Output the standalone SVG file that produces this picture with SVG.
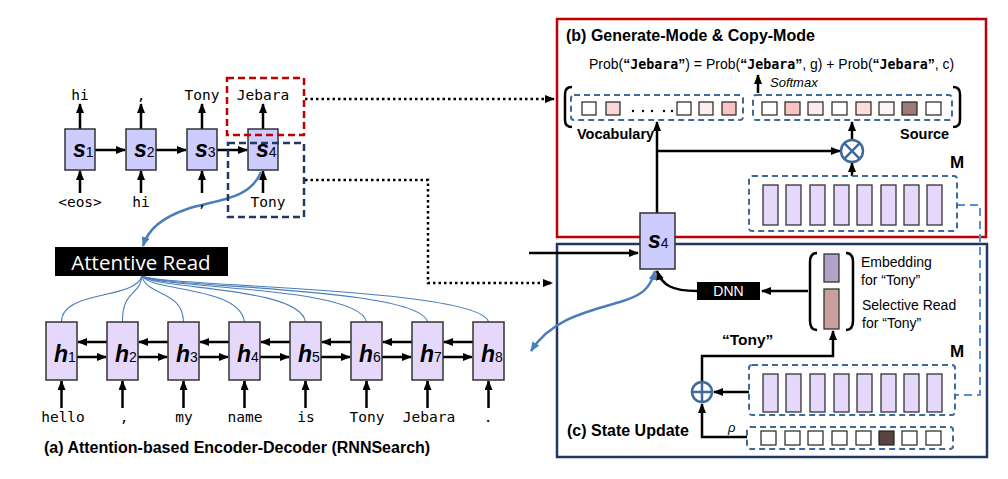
<svg xmlns="http://www.w3.org/2000/svg" width="1008" height="479" viewBox="0 0 1008 479">
<defs>
<style>
.sans{font-family:"Liberation Sans",Arial,sans-serif}
.mono{font-family:"DejaVu Sans Mono","Liberation Mono",monospace;font-size:14.5px}
.b{font-weight:bold}
.lbl{font-family:"Liberation Sans",Arial,sans-serif;font-weight:bold;font-style:italic;font-size:23px}
.sub{font-style:normal;font-weight:normal;font-size:14px}
.dec{fill:#ccccff;stroke:#333;stroke-width:1.5}
.enc{fill:#e6d8fb;stroke:#333;stroke-width:1.5}
.mem{fill:#e6d8fb;stroke:#333;stroke-width:1.3}
.sq{stroke:#222;stroke-width:1.2}
.arr{stroke:#000;stroke-width:2.5;fill:none;marker-end:url(#ah)}
.dot{stroke:#000;stroke-width:2.5;fill:none;stroke-dasharray:2.5,3;marker-end:url(#ah)}
.dash{fill:none;stroke:#3e6a9a;stroke-width:2;stroke-dasharray:6,4}
.fan{fill:none;stroke:#4a7ebb;stroke-width:1.1}
.blue{fill:none;stroke:#4a7ebb;stroke-width:2.5}
.brk{fill:none;stroke:#000;stroke-width:2.5}
.jb{font-family:"DejaVu Sans Mono",monospace;font-weight:bold;font-size:13.3px}
</style>
<marker id="ah" viewBox="0 0 10 8" refX="9" refY="4" markerWidth="10" markerHeight="8" markerUnits="userSpaceOnUse" orient="auto"><path d="M0,0 L10,4 L0,8 z" fill="#000"/></marker>
<marker id="bh" viewBox="0 0 10 8" refX="9" refY="4" markerWidth="10" markerHeight="8" markerUnits="userSpaceOnUse" orient="auto-start-reverse"><path d="M0,0 L10,4 L0,8 z" fill="#4a7ebb"/></marker>
</defs>
<rect width="1008" height="479" fill="#fff"/>

<!-- panels -->
<g id="panel-b">
<rect x="557" y="19" width="429" height="218" fill="none" stroke="#c00000" stroke-width="2.5"/>
<text class="sans b" x="566" y="41" font-size="16">(b)  Generate-Mode &amp; Copy-Mode</text>
</g>
<g id="panel-c">
<rect x="557" y="244" width="430" height="213" fill="none" stroke="#1f3864" stroke-width="2.5"/>
<text class="sans b" x="567" y="436" font-size="16">(c) State Update</text>
</g>

<!-- connectors -->
<g id="connectors">
<!-- decoder -->
<path class="arr" d="M80,129 V104"/>
<path class="arr" d="M141,129 V104"/>
<path class="arr" d="M202,129 V104"/>
<path class="arr" d="M263,129 V104"/>
<path class="arr" d="M80,193 V171"/>
<path class="arr" d="M141,193 V171"/>
<path class="arr" d="M202,193 V171"/>
<path class="arr" d="M263,193 V171"/>
<path class="arr" d="M95,150 H125"/>
<path class="arr" d="M156,150 H186"/>
<path class="arr" d="M217,150 H247"/>
<!-- encoder -->
<path class="arr" d="M107,342 H78"/>
<path class="arr" d="M168,342 H139"/>
<path class="arr" d="M229,342 H200"/>
<path class="arr" d="M290,342 H261"/>
<path class="arr" d="M351,342 H322"/>
<path class="arr" d="M412,342 H383"/>
<path class="arr" d="M473,342 H444"/>
<path class="arr" d="M77,357 H106"/>
<path class="arr" d="M138,357 H167"/>
<path class="arr" d="M199,357 H228"/>
<path class="arr" d="M260,357 H289"/>
<path class="arr" d="M321,357 H350"/>
<path class="arr" d="M382,357 H411"/>
<path class="arr" d="M443,357 H472"/>
<path class="arr" d="M61.5,408 V381"/>
<path class="arr" d="M122.5,408 V381"/>
<path class="arr" d="M183.5,408 V381"/>
<path class="arr" d="M244.5,408 V381"/>
<path class="arr" d="M305.5,408 V381"/>
<path class="arr" d="M366.5,408 V381"/>
<path class="arr" d="M427.5,408 V381"/>
<path class="arr" d="M488.5,408 V381"/>
<!-- attention fan -->
<path class="fan" d="M142,276 C135,300 61,290 61.5,322"/>
<path class="fan" d="M142,276 C140,296 122,290 122.5,322"/>
<path class="fan" d="M142,276 C146,296 183,290 183.5,322"/>
<path class="fan" d="M142,276 C152,292 240,286 244.5,322"/>
<path class="fan" d="M142,276 C156,290 300,286 305.5,322"/>
<path class="fan" d="M142,276 C160,289 360,286 366.5,322"/>
<path class="fan" d="M142,276 C163,288 420,287 427.5,322"/>
<path class="fan" d="M142,276 C166,287 480,288 488.5,322"/>
<!-- blue curves -->
<path class="blue" marker-end="url(#bh)" d="M261,172 C250,200 215,200 190,208 C160,218 148,230 143,246"/>
<path class="blue" marker-start="url(#bh)" marker-end="url(#bh)" d="M655,271 C650,290 640,296 620,302 C590,311 552,318 531,351"/>
<!-- dotted -->
<path class="dot" d="M305,99 H554"/>
<path class="dot" d="M305,180 H428 V283 H552"/>
<!-- into s4 -->
<path class="arr" d="M529,253 H638"/>
<!-- panel b -->
<path class="arr" d="M657,213 V122"/>
<path class="arr" d="M657,151 H840"/>
<path class="arr" d="M852,140 V122"/>
<path class="arr" d="M852,176 V163"/>
<path class="arr" d="M758,93 V75"/>
<!-- panel c -->
<path class="arr" d="M808,291 H762"/>
<path class="arr" d="M697,291 C672,291 662,285 657,271"/>
<path class="arr" d="M702,382 V356 H833 V331"/>
<path class="arr" d="M749,392 H714"/>
<path class="arr" d="M747,437 H702 V404"/>
<path fill="none" stroke="#5b8fd0" stroke-width="2" stroke-dasharray="8,5" d="M957,205 H980 V395 H955"/>
</g>

<!-- decoder -->
<g id="dec-outputs" class="mono">
<text x="80" y="100" text-anchor="middle">hi</text>
<text x="141" y="100" text-anchor="middle">,</text>
<text x="202" y="100" text-anchor="middle">Tony</text>
<text x="263" y="100" text-anchor="middle">Jebara</text>
<text x="80" y="207" text-anchor="middle">&lt;eos&gt;</text>
<text x="141" y="207" text-anchor="middle">hi</text>
<text x="202" y="207" text-anchor="middle">,</text>
<text x="268" y="207" text-anchor="middle">Tony</text>
</g>
<g id="s1"><rect class="dec" x="65" y="129" width="30" height="41"/><text class="lbl" x="73" y="157">s<tspan class="sub">1</tspan></text></g>
<g id="s2"><rect class="dec" x="126" y="129" width="30" height="41"/><text class="lbl" x="134" y="157">s<tspan class="sub">2</tspan></text></g>
<g id="s3"><rect class="dec" x="187" y="129" width="30" height="41"/><text class="lbl" x="195" y="157">s<tspan class="sub">3</tspan></text></g>
<g id="s4-dec"><rect class="dec" x="248" y="129" width="30" height="41"/><text class="lbl" x="256" y="157">s<tspan class="sub">4</tspan></text></g>
<g id="red-sel"><rect x="227" y="78" width="77" height="57" fill="none" stroke="#c00000" stroke-width="2.5" stroke-dasharray="7,4"/></g>
<g id="navy-sel"><rect x="228" y="143" width="76" height="74" fill="none" stroke="#1f3864" stroke-width="2.5" stroke-dasharray="7,4"/></g>

<!-- attentive read -->
<g id="attentive-read">
<rect x="55" y="247" width="173" height="29" fill="#000"/>
<text x="141" y="270" text-anchor="middle" fill="#fff" font-family="'Open Sans','Noto Sans',sans-serif" font-size="20.5">Attentive Read</text>
</g>

<!-- encoder -->
<g id="h1"><rect class="enc" x="46" y="322" width="31" height="58"/><text class="lbl" x="54" y="362">h<tspan class="sub">1</tspan></text></g>
<g id="h2"><rect class="enc" x="107" y="322" width="31" height="58"/><text class="lbl" x="115" y="362">h<tspan class="sub">2</tspan></text></g>
<g id="h3"><rect class="enc" x="168" y="322" width="31" height="58"/><text class="lbl" x="176" y="362">h<tspan class="sub">3</tspan></text></g>
<g id="h4"><rect class="enc" x="229" y="322" width="31" height="58"/><text class="lbl" x="237" y="362">h<tspan class="sub">4</tspan></text></g>
<g id="h5"><rect class="enc" x="290" y="322" width="31" height="58"/><text class="lbl" x="298" y="362">h<tspan class="sub">5</tspan></text></g>
<g id="h6"><rect class="enc" x="351" y="322" width="31" height="58"/><text class="lbl" x="359" y="362">h<tspan class="sub">6</tspan></text></g>
<g id="h7"><rect class="enc" x="412" y="322" width="31" height="58"/><text class="lbl" x="420" y="362">h<tspan class="sub">7</tspan></text></g>
<g id="h8"><rect class="enc" x="473" y="322" width="31" height="58"/><text class="lbl" x="481" y="362">h<tspan class="sub">8</tspan></text></g>
<g id="enc-inputs" class="mono">
<text x="63" y="422" text-anchor="middle">hello</text>
<text x="124" y="422" text-anchor="middle">,</text>
<text x="184" y="422" text-anchor="middle">my</text>
<text x="245" y="422" text-anchor="middle">name</text>
<text x="306" y="422" text-anchor="middle">is</text>
<text x="367" y="422" text-anchor="middle">Tony</text>
<text x="429" y="422" text-anchor="middle">Jebara</text>
<text x="488" y="422" text-anchor="middle">.</text>
</g>
<g id="caption-a"><text class="sans b" x="44" y="453" font-size="16">(a) Attention-based Encoder-Decoder (RNNSearch)</text></g>

<!-- panel b contents -->
<g id="formula">
<text class="sans" x="589" y="69" font-size="14">Prob(<tspan font-weight="bold">“</tspan><tspan class="jb">Jebara</tspan><tspan font-weight="bold">”</tspan>) = Prob(<tspan font-weight="bold">“</tspan><tspan class="jb">Jebara</tspan><tspan font-weight="bold">”</tspan>, g) + Prob(<tspan font-weight="bold">“</tspan><tspan class="jb">Jebara</tspan><tspan font-weight="bold">”</tspan>, c)</text>
<text class="sans" x="770" y="87" font-size="13" font-style="italic">Softmax</text>
</g>
<g id="output-vector">
<path class="brk" d="M572,87 Q565,87 565,94 V120 Q565,127 572,127"/>
<path class="brk" d="M953,87 Q960,87 960,94 V120 Q960,127 953,127"/>
</g>
<g id="vocabulary">
<rect class="dash" x="571" y="95" width="172" height="25" rx="3"/>
<rect class="sq" x="582" y="102" width="14" height="13" fill="#fff"/>
<rect class="sq" x="606" y="102" width="14" height="13" fill="#fcd6d6"/>
<g fill="#000"><circle cx="633" cy="111" r="1.2"/><circle cx="643" cy="111" r="1.2"/><circle cx="652" cy="111" r="1.2"/><circle cx="664" cy="111" r="1.2"/><circle cx="672" cy="111" r="1.2"/></g>
<rect class="sq" x="677" y="102" width="14" height="13" fill="#fff"/>
<rect class="sq" x="699" y="102" width="14" height="13" fill="#fdeeee"/>
<rect class="sq" x="722" y="102" width="14" height="13" fill="#fbc4c4"/>
<text class="sans b" x="577" y="139" font-size="14.5">Vocabulary</text>
</g>
<g id="source">
<rect class="dash" x="753" y="95" width="199" height="25" rx="3"/>
<rect class="sq" x="762" y="102" width="15" height="13" fill="#fff"/>
<rect class="sq" x="785" y="102" width="15" height="13" fill="#f9c3c3"/>
<rect class="sq" x="808" y="102" width="15" height="13" fill="#fdeaea"/>
<rect class="sq" x="832" y="102" width="15" height="13" fill="#fff"/>
<rect class="sq" x="856" y="102" width="15" height="13" fill="#fcdcdc"/>
<rect class="sq" x="879" y="102" width="15" height="13" fill="#fdf5f5"/>
<rect class="sq" x="902" y="102" width="15" height="13" fill="#9e7a7a"/>
<rect class="sq" x="926" y="102" width="15" height="13" fill="#fff"/>
<text class="sans b" x="900" y="139" font-size="14.5">Source</text>
</g>
<g id="mult">
<circle cx="852" cy="151" r="11" fill="#fff" stroke="#3e6a9a" stroke-width="2.5"/>
<path d="M844.2,143.2 L859.8,158.8 M859.8,143.2 L844.2,158.8" stroke="#3e6a9a" stroke-width="2.5"/>
</g>
<g id="memory-b">
<text class="sans b" x="950" y="168" font-size="17">M</text>
<rect class="dash" x="749" y="176" width="208" height="55" rx="3"/>
<rect class="mem" x="763" y="185" width="15" height="40"/>
<rect class="mem" x="786" y="185" width="15" height="40"/>
<rect class="mem" x="810" y="185" width="15" height="40"/>
<rect class="mem" x="834" y="185" width="15" height="40"/>
<rect class="mem" x="857" y="185" width="15" height="40"/>
<rect class="mem" x="881" y="185" width="15" height="40"/>
<rect class="mem" x="904" y="185" width="15" height="40"/>
<rect class="mem" x="927" y="185" width="15" height="40"/>
</g>

<g id="s4">
<rect class="dec" x="640" y="213" width="35" height="56"/>
<text class="lbl" x="648" y="248" font-size="25">s<tspan class="sub" font-size="15">4</tspan></text>
</g>

<!-- panel c contents -->
<g id="dnn">
<rect x="697" y="282" width="63" height="18" fill="#000"/>
<text class="sans" x="728.5" y="296" text-anchor="middle" fill="#fff" font-size="14">DNN</text>
</g>
<g id="input-vector">
<path class="brk" d="M817,253 Q810,253 810,262 V321 Q810,330 817,330"/>
<path class="brk" d="M846,253 Q853,253 853,262 V321 Q853,330 846,330"/>
<rect x="824" y="254" width="15" height="28" fill="#b3a2c8" stroke="#333" stroke-width="1.3"/>
<rect x="824" y="289" width="15" height="40" fill="#c9a09e" stroke="#333" stroke-width="1.3"/>
<text class="sans" x="861" y="267" font-size="14">Embedding</text>
<text class="sans" x="861" y="285" font-size="14">for “Tony”</text>
<text class="sans" x="862" y="310" font-size="14">Selective Read</text>
<text class="sans" x="862" y="328" font-size="14">for “Tony”</text>
</g>
<g id="tony-label"><text class="sans b" x="722" y="345" font-size="15.5">“Tony”</text></g>
<g id="plus">
<circle cx="702" cy="392" r="10" fill="#fff" stroke="#3e6a9a" stroke-width="2.5"/>
<path d="M692,392 H712 M702,382 V402" stroke="#3e6a9a" stroke-width="2.5"/>
</g>
<g id="memory-c">
<text class="sans b" x="950" y="357" font-size="17">M</text>
<rect class="dash" x="749" y="365" width="206" height="50" rx="3"/>
<rect class="mem" x="763" y="374" width="15" height="38"/>
<rect class="mem" x="786" y="374" width="15" height="38"/>
<rect class="mem" x="810" y="374" width="15" height="38"/>
<rect class="mem" x="834" y="374" width="15" height="38"/>
<rect class="mem" x="857" y="374" width="15" height="38"/>
<rect class="mem" x="881" y="374" width="15" height="38"/>
<rect class="mem" x="904" y="374" width="15" height="38"/>
<rect class="mem" x="927" y="374" width="15" height="38"/>
</g>
<g id="rho">
<text class="sans" x="728" y="432" font-size="13" font-style="italic">ρ</text>
<rect class="dash" x="747" y="427" width="206" height="22" rx="3"/>
<rect class="sq" x="761" y="431" width="15" height="14" fill="#fff"/>
<rect class="sq" x="785" y="431" width="15" height="14" fill="#fff"/>
<rect class="sq" x="808" y="431" width="15" height="14" fill="#fff"/>
<rect class="sq" x="832" y="431" width="15" height="14" fill="#fff"/>
<rect class="sq" x="856" y="431" width="15" height="14" fill="#fff"/>
<rect class="sq" x="879" y="431" width="15" height="14" fill="#594444"/>
<rect class="sq" x="902" y="431" width="15" height="14" fill="#fff"/>
<rect class="sq" x="926" y="431" width="15" height="14" fill="#fff"/>
</g>
</svg>
